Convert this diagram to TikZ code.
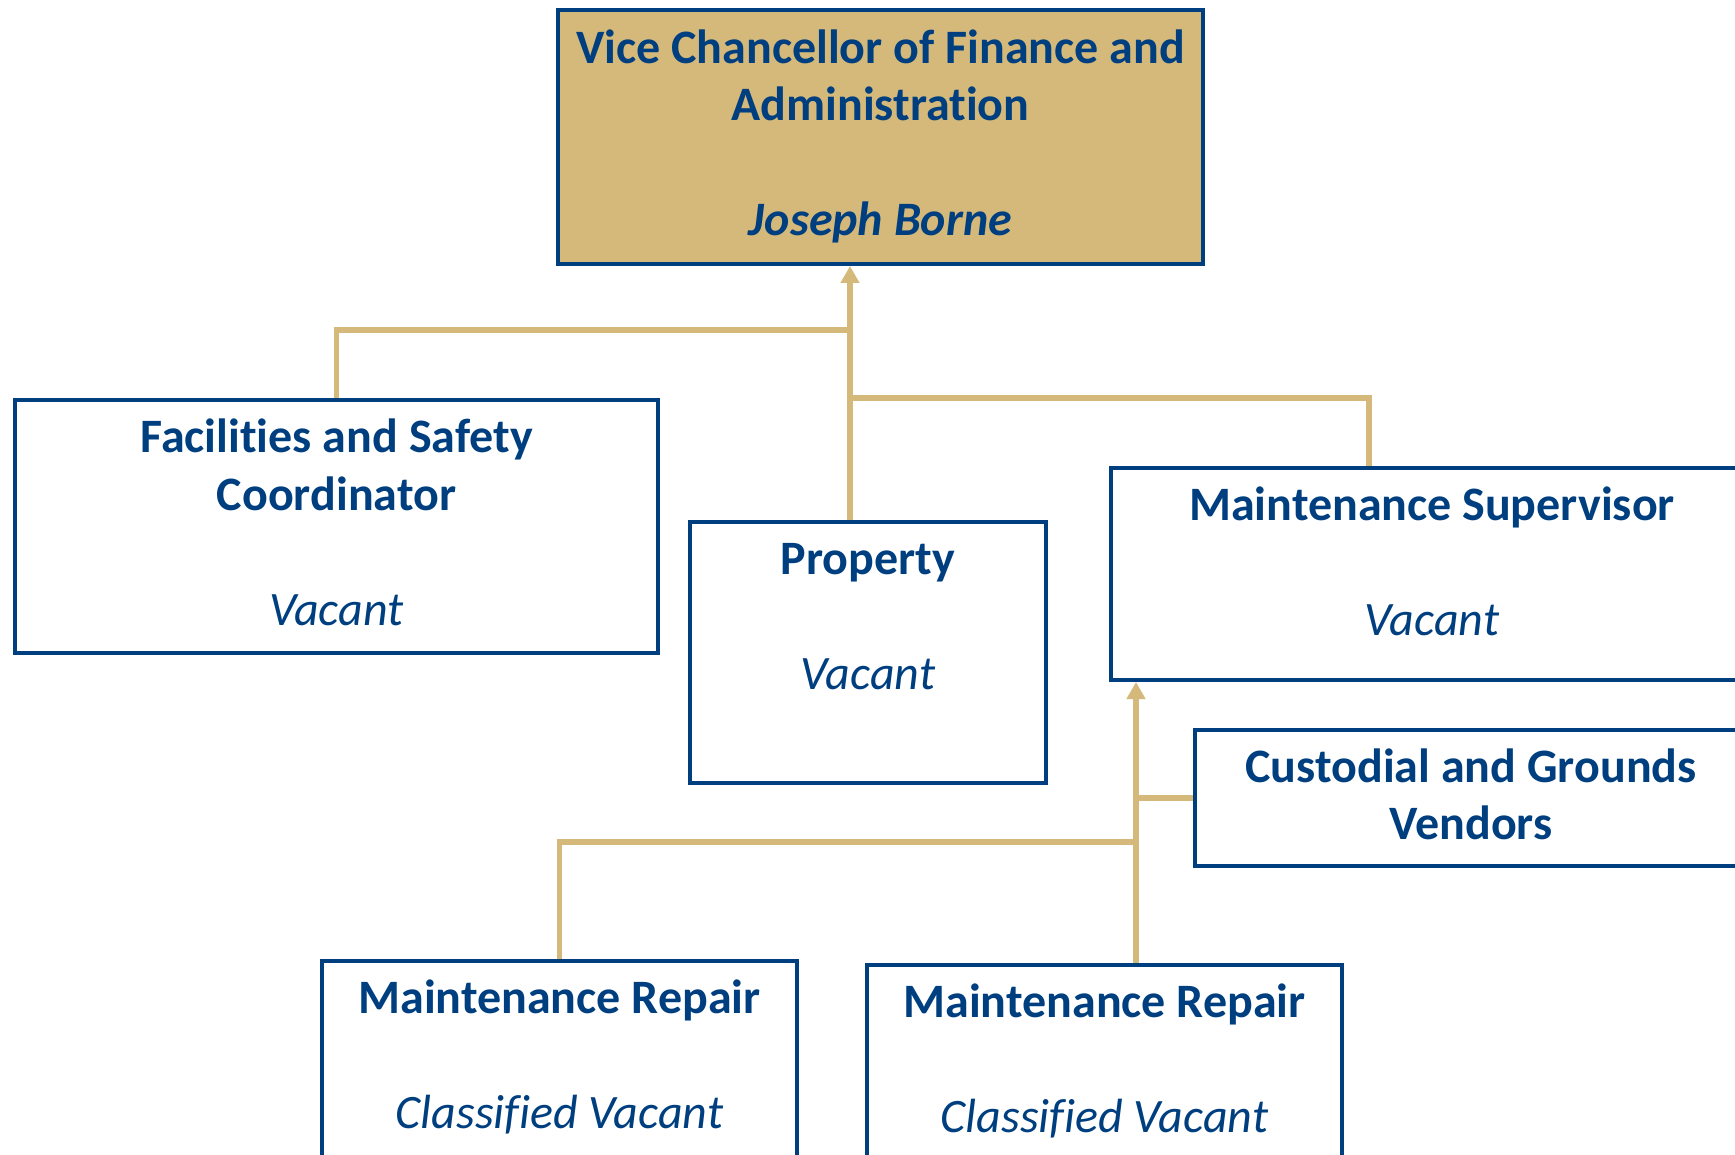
\documentclass[tikz,border=0pt]{standalone}
\usepackage{fontspec}
\setmainfont{Carlito}[Ligatures={NoCommon}]
\usetikzlibrary{positioning,arrows.meta}
\definecolor{navy}{RGB}{0,63,127}
\definecolor{gold}{RGB}{212,185,122}

\begin{document}
\begin{tikzpicture}[x=1pt,y=-1pt,
    box/.style={draw=navy,line width=4pt,anchor=north west,inner sep=0pt},
    txt/.style={text=navy,align=center,inner sep=0pt,
      font=\fontsize{48}{57.5}\selectfont\bfseries},
    conn/.style={draw=gold,line width=5.5pt},
    tip/.style={-{Triangle[length=17pt,width=18pt]}}]
  \clip (0,0) rectangle (1735,1155);
  % boxes
  \node[box,fill=gold,minimum width=645pt,minimum height=254pt] (vc) at (556,8) {};
  \node[box,minimum width=643pt,minimum height=253pt] (fac) at (13,398) {};
  \node[box,minimum width=356pt,minimum height=261pt] (prop) at (688,520) {};
  \node[box,minimum width=642pt,minimum height=212pt] (sup) at (1109,466) {};
  \node[box,minimum width=552pt,minimum height=136pt] (cust) at (1193,728) {};
  \node[box,minimum width=475pt,minimum height=260pt] (rep1) at (320,959) {};
  \node[box,minimum width=475pt,minimum height=260pt] (rep2) at (865,963) {};
  % texts
  \node[txt,below=15pt of vc.north] (vctxt) {\strut Vice Chancellor of Finance and\\Administration\\[57.5pt]\textit{Joseph Borne}};
  \node[txt,below=14.5pt of fac.north] (factxt) {\strut Facilities and Safety\\Coordinator\\[57.5pt]{\mdseries\itshape Vacant}};
  \node[txt,below=14.5pt of prop.north] (proptxt) {\strut Property\\[57.5pt]{\mdseries\itshape Vacant}};
  \node[txt,below=14pt of sup.north] (suptxt) {\strut Maintenance Supervisor\\[57.5pt]{\mdseries\itshape Vacant}};
  \node[txt,below=14pt of cust.north] (custtxt) {\strut Custodial and Grounds\\Vendors};
  \node[txt,below=14.5pt of rep1.north] (rep1txt) {\strut Maintenance Repair\\[57.5pt]{\mdseries\itshape Classified Vacant}};
  \node[txt,below=14pt of rep2.north] (rep2txt) {\strut Maintenance Repair\\[57.5pt]{\mdseries\itshape Classified Vacant}};
  % connectors
  \coordinate (j1) at (850,330);
  \coordinate (j2) at (850,398);
  \coordinate (k1) at (1136,842);
  \draw[conn,tip] (prop.north -| j1) -- (vc.south -| j1);
  \draw[conn] (fac.north) |- (j1);
  \draw[conn] ([xshift=-63pt]sup.north) |- (j2);
  \draw[conn,tip] (rep2.north -| k1) -- (sup.south -| k1);
  \draw[conn] (rep1.north) |- (k1);
  \draw[conn] (cust.west) -- (cust.west -| k1);
\end{tikzpicture}
\end{document}
